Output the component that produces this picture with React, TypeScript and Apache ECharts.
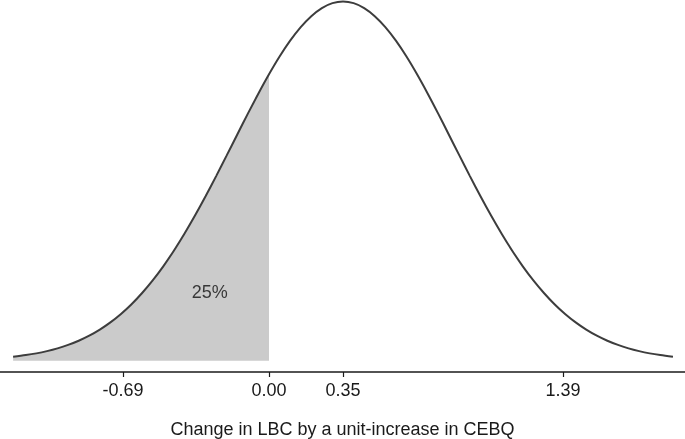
import React, { useEffect, useRef } from "react";
import * as echarts from "echarts";

// Curve: x (change in LBC) and density height
const curveX = [
  -1.21, -1.15, -1.1, -1.05, -1.0, -0.95, -0.9, -0.85, -0.8, -0.75, -0.7, -0.65, -0.6, -0.55, -0.5, -0.45,
  -0.4, -0.35, -0.3, -0.25, -0.2, -0.15, -0.1, -0.05, 0.0, 0.05, 0.1, 0.15, 0.2, 0.25, 0.3, 0.35,
  0.4, 0.45, 0.5, 0.55, 0.6, 0.65, 0.7, 0.75, 0.8, 0.85, 0.9, 0.95, 1.0, 1.05, 1.1, 1.15,
  1.2, 1.25, 1.3, 1.35, 1.4, 1.45, 1.5, 1.55, 1.6, 1.65, 1.7, 1.75, 1.8, 1.85, 1.91,
];
const curveY = [
  0.0085, 0.012, 0.0157, 0.0205, 0.0264, 0.0337, 0.0427, 0.0535, 0.0665, 0.0819, 0.0999, 0.1207, 0.1446, 0.1715, 0.2016, 0.2349,
  0.2711, 0.3099, 0.3511, 0.3942, 0.4384, 0.4831, 0.5275, 0.5706, 0.6115, 0.6494, 0.6833, 0.7123, 0.7357, 0.753, 0.7635, 0.767,
  0.7635, 0.753, 0.7357, 0.7123, 0.6833, 0.6494, 0.6115, 0.5706, 0.5275, 0.4831, 0.4384, 0.3942, 0.3511, 0.3099, 0.2711, 0.2349,
  0.2016, 0.1715, 0.1446, 0.1207, 0.0999, 0.0819, 0.0665, 0.0535, 0.0427, 0.0337, 0.0264, 0.0205, 0.0157, 0.012, 0.0085,
];
const shadeUpTo = 0.0;
const tickValues = [-0.69, 0.0, 0.35, 1.39];
const shadeLabel = "25%";
const shadeLabelPos = [-0.28, 0.147];
const axisTitle = "Change in LBC by a unit-increase in CEBQ";

export default function App() {
  const ref = useRef<HTMLDivElement>(null);
  useEffect(() => {
    if (!ref.current) return;
    const chart = echarts.init(ref.current, null, { renderer: "svg" });
    const curve = curveX.map((x, i) => [x, curveY[i]]);
    const shade = curve.filter((p) => p[0] <= shadeUpTo);
    const font = "'Liberation Sans', Arial, Helvetica, sans-serif";
    chart.setOption({
      animation: false,
      grid: { left: 0, right: 0, top: 0, bottom: 67, outerBoundsMode: "none", containLabel: false },
      xAxis: {
        type: "value",
        min: -1.272,
        max: 1.967,
        splitLine: { show: false },
        axisLine: { onZero: false, lineStyle: { color: "#1a1a1a", width: 1.5 } },
        axisTick: { show: true, length: 5, customValues: tickValues, lineStyle: { color: "#1a1a1a", width: 1.2 } },
        axisLabel: {
          customValues: tickValues,
          formatter: (v: number) => v.toFixed(2),
          color: "#1a1a1a",
          fontSize: 18,
          fontFamily: font,
          margin: 9,
        },
        name: axisTitle,
        nameLocation: "middle",
        nameGap: 48,
        nameTextStyle: { color: "#1a1a1a", fontSize: 18, fontFamily: font },
      },
      yAxis: {
        type: "value",
        min: -0.0241,
        max: 0.7702,
        show: false,
        splitLine: { show: false },
      },
      series: [
        {
          type: "line",
          data: shade,
          smooth: 0.3,
          symbol: "none",
          lineStyle: { width: 0 },
          areaStyle: { color: "#cbcbcb", opacity: 1 },
          silent: true,
          z: 1,
        },
        {
          type: "line",
          data: curve,
          smooth: 0.3,
          symbol: "none",
          lineStyle: { color: "#3d3d3d", width: 2 },
          silent: true,
          z: 2,
        },
        {
          type: "scatter",
          data: [shadeLabelPos],
          symbolSize: 0,
          silent: true,
          z: 3,
          label: {
            show: true,
            position: "inside",
            formatter: shadeLabel,
            color: "#111111",
            textBorderWidth: 0,
            fontSize: 18,
            fontFamily: font,
          },
        },
      ],
    });
    return () => chart.dispose();
  }, []);
  return (
    <div
      ref={ref}
      style={{ position: "fixed", left: 0, top: 0, width: 685, height: 439 }}
    />
  );
}
